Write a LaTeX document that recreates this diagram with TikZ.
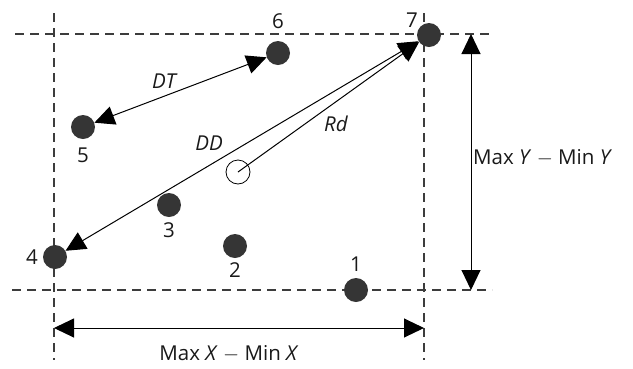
\documentclass[tikz,border=0pt]{standalone}
\usepackage{fontspec}
\setmainfont{Open Sans}
\usepackage{xcolor}
\usetikzlibrary{arrows.meta, positioning, calc}
\definecolor{dotgray}{RGB}{53, 53, 53}
\definecolor{linegray}{RGB}{60, 60, 60}

\tikzset{
    dot/.style={circle, fill=dotgray, inner sep=0pt, minimum size=24pt},
    hollow/.style={circle, draw=black, line width=0.8pt, inner sep=0pt, minimum size=24pt},
    guide/.style={linegray, line width=1.2pt, dash pattern=on 9pt off 6pt},
    dimline/.style={black, line width=1pt, {Triangle[length=20pt,width=19pt]}-{Triangle[length=20pt,width=19pt]}},
    oneline/.style={black, line width=1pt, -{Triangle[length=20pt,width=19pt]}},
    lbl/.style={font=\fontsize{20.5}{24}\selectfont, text=black!90, inner sep=1pt}
}

\begin{document}
\begin{tikzpicture}[x=1pt, y=-1pt]
        \useasboundingbox (0,0) rectangle (633,368);
        % bounding box lines
        \draw[guide] (15,34) -- (492,34);
        \draw[guide] (12,290) -- (492,290);
        \draw[guide] (54,13) -- (54,360);
        \draw[guide] (424,13) -- (424,360);

        % points
        \node[dot] (p1) at (356,290) {};
        \node[dot] (p2) at (235,246) {};
        \node[dot] (p3) at (169,205) {};
        \node[dot] (p4) at (55,257) {};
        \node[dot] (p5) at (83,127) {};
        \node[dot] (p6) at (278,53) {};
        \node[dot] (p7) at (429,35) {};
        \node[hollow] (ctr) at (238,172) {};

        \node[lbl] at (356,264) {1};
        \node[lbl] at (235,270) {2};
        \node[lbl] at (169,230) {3};
        \node[lbl] at (32,257) {4};
        \node[lbl] at (83,155) {5};
        \node[lbl] at (278,21) {6};
        \node[lbl] at (412,20) {7};

        % distances
        \draw[dimline] (p5) -- (p6);
        \draw[dimline] (p4) -- (p7);
        \draw[oneline] (ctr.center) -- (p7);
        \node[lbl] at (164,81) {\itshape DT};
        \node[lbl] at (209,143) {\itshape DD};
        \node[lbl] at (336,124) {\itshape Rd};

        % extents
        \coordinate (ytop) at (471,34);
        \coordinate (ybot) at (471,290);
        \coordinate (xleft) at (54,328);
        \coordinate (xright) at (424,328);
        \draw[dimline] (ytop) -- (ybot);
        \draw[dimline] (xleft) -- (xright);
        \node[lbl, right] at (472,158) {Max \textit{Y} $-$ Min \textit{Y}};
        \node[lbl] at (229,354) {Max \textit{X} $-$ Min \textit{X}};
    \end{tikzpicture}
\end{document}
